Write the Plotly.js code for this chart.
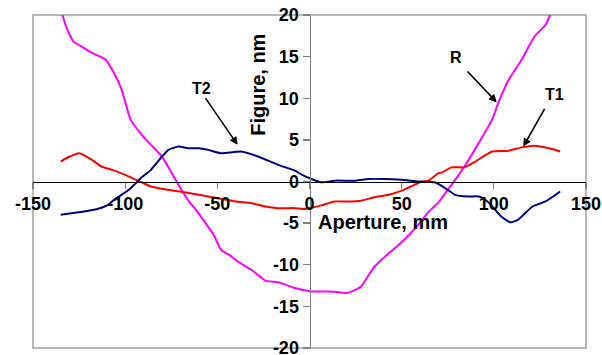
<!DOCTYPE html>
<html>
<head>
<meta charset="utf-8">
<script src="https://cdn.plot.ly/plotly-3.0.1.min.js"></script>
<style>html,body{margin:0;padding:0;background:#fff;}#chart{width:602px;height:355px;}</style>
</head>
<body>
<div id="chart"></div>
<script>
// T1 (red)
const t1X = [-135, -130, -125, -118, -113, -107, -100, -93, -86, -77, -68, -60, -50, -40, -31.5, -24, -17, -8, -4, 0, 6, 13.6, 20, 28, 35, 43, 50, 55, 61, 64.5, 70, 72, 77, 84, 90, 99, 108, 115, 122, 130, 136];
const t1Y = [2.4, 3.0, 3.4, 2.6, 1.8, 1.4, 0.8, 0.1, -0.6, -1.0, -1.3, -1.6, -2.0, -2.4, -2.6, -3.0, -3.2, -3.2, -3.3, -3.2, -2.9, -2.4, -2.4, -2.3, -1.9, -1.6, -1.1, -0.6, 0.0, 0.1, 1.0, 1.1, 1.7, 1.7, 2.4, 3.6, 3.7, 4.1, 4.3, 4.0, 3.6];
// T2 (navy)
const t2X = [-135, -125, -115, -110, -106, -98, -91, -86, -80, -76.5, -71, -66, -60, -55, -48, -37, -28, -17, -8, -4, 0, 6.5, 13.6, 25, 32, 40, 50, 59, 68, 75, 79, 86, 92, 97, 104, 109, 113, 121, 128, 136];
const t2Y = [-4.0, -3.7, -3.3, -2.9, -2.2, -1.0, 0.5, 1.4, 3.0, 3.8, 4.2, 4.0, 4.0, 3.8, 3.4, 3.6, 3.0, 2.0, 1.3, 0.8, 0.4, -0.1, 0.1, 0.1, 0.3, 0.3, 0.2, 0.0, -0.1, -1.0, -1.6, -1.8, -1.8, -2.5, -4.2, -4.9, -4.6, -3.0, -2.4, -1.2];
// R (magenta)
const rX = [-134, -132, -128, -122, -118.5, -111, -106, -102, -97, -91, -86, -80, -75, -70, -66, -62, -58, -52, -48, -43, -39, -31.5, -24, -17, -8, 1, 10, 16, 20, 24, 28, 35, 41, 50, 59, 64, 70, 75, 81, 84, 88, 92, 99, 102.7, 108, 115, 122, 128, 130.5];
const rY = [20, 18.6, 16.8, 16.0, 15.5, 14.7, 13.0, 11.1, 7.4, 5.6, 4.4, 3.0, 1.1, -0.8, -2.2, -3.3, -4.5, -6.4, -8.2, -8.9, -9.6, -10.6, -11.9, -12.1, -12.8, -13.2, -13.2, -13.3, -13.4, -13.1, -12.6, -10.3, -9.0, -7.3, -5.2, -3.8, -2.5, -1.0, 0.8, 1.8, 3.2, 4.7, 7.4, 9.6, 12.2, 14.6, 17.4, 18.8, 20];

const xTicks = [-150, -100, -50, 0, 50, 100, 150];
const yTicks = [-20, -15, -10, -5, 0, 5, 10, 15, 20];

const labels = ["T2", "R", "T1"];
const labelX = [-58.5, 79.5, 133];
const labelY = [11.2, 14.9, 10.5];
const arrowHeadX = [-39, 101.6, 116];
const arrowHeadY = [4.4, 9.5, 4.2];
const arrowTailX = [-57, 85, 128];
const arrowTailY = [10.2, 13.4, 8.9];

const FONT = 'Liberation Sans, Arial, sans-serif';

const traces = [
  {x: rX, y: rY, mode: 'lines', line: {color: '#FF00FF', width: 2, shape: 'spline', smoothing: 0.5}, name: 'R'},
  {x: t1X, y: t1Y, mode: 'lines', line: {color: '#FF0000', width: 2, shape: 'spline', smoothing: 0.5}, name: 'T1'},
  {x: t2X, y: t2Y, mode: 'lines', line: {color: '#000080', width: 2, shape: 'spline', smoothing: 0.5}, name: 'T2'}
];

const annotations = [];
for (let i = 0; i < labels.length; i++) {
  annotations.push({x: labelX[i], y: labelY[i], xref: 'x', yref: 'y', text: labels[i], showarrow: false,
    font: {family: FONT, size: 16, color: '#000', weight: 'bold'}});
  annotations.push({x: arrowHeadX[i], y: arrowHeadY[i], xref: 'x', yref: 'y', ax: arrowTailX[i], ay: arrowTailY[i],
    axref: 'x', ayref: 'y', text: '', showarrow: true, arrowhead: 2, arrowsize: 1, arrowwidth: 1.6, arrowcolor: '#000', standoff: 0});
}
annotations.push({x: -28, y: 11.6, xref: 'x', yref: 'y', text: 'Figure, nm', textangle: -90, showarrow: false,
  font: {family: FONT, size: 20, color: '#000', weight: 'bold'}});
annotations.push({x: 40, y: -4.9, xref: 'x', yref: 'y', text: 'Aperture, mm', showarrow: false,
  font: {family: FONT, size: 20, color: '#000', weight: 'bold'}});

const layout = {
  width: 602, height: 355,
  margin: {l: 33, r: 16, t: 15, b: 7, pad: 0},
  paper_bgcolor: '#fff', plot_bgcolor: '#fff',
  showlegend: false,
  xaxis: {range: [-150, 150], anchor: 'free', position: 0.5, tickvals: xTicks, ticktext: xTicks.map(String),
    showline: true, linecolor: '#000', linewidth: 1.3, ticks: 'outside', ticklen: 6, tickcolor: '#808080', tickwidth: 1.3,
    ticklabeloverflow: 'allow',
    showgrid: false, zeroline: false, tickfont: {family: FONT, size: 18, color: '#000', weight: 'bold'}},
  yaxis: {range: [-20, 20], anchor: 'free', position: 0.5, tickvals: yTicks, ticktext: yTicks.map(String),
    showline: true, linecolor: '#808080', linewidth: 1.5, ticks: 'outside', ticklen: 7, tickcolor: '#808080', tickwidth: 1.3,
    ticklabeloverflow: 'allow',
    showgrid: false, zeroline: false, tickfont: {family: FONT, size: 18, color: '#000', weight: 'bold'}},
  shapes: [{type: 'rect', xref: 'paper', yref: 'paper', x0: 0, x1: 1, y0: 0, y1: 1, line: {color: '#a0a0a0', width: 1.5}, layer: 'below'}],
  annotations: annotations
};

Plotly.newPlot('chart', traces, layout, {staticPlot: true, displayModeBar: false});
</script>
</body>
</html>
